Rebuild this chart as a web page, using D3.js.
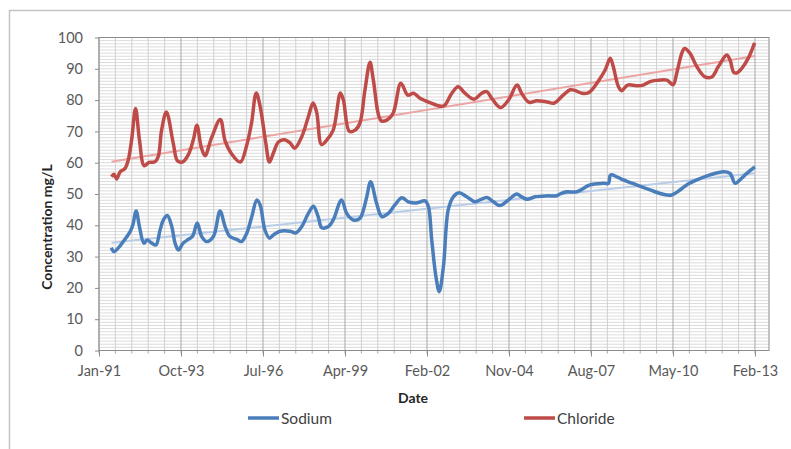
<!DOCTYPE html>
<html>
<head>
<meta charset="utf-8">
<script src="https://cdn.jsdelivr.net/npm/d3@7"></script>
<style>
  body { margin: 0; background: #fff; }
  text { font-family: Lato, "Open Sans", sans-serif; }
</style>
</head>
<body>
<div id="chart"></div>
<script>
"use strict"

// sample dates as decimal years, values in mg/L
let sodiumDates = [1991.41,1991.50,1991.64,1991.81,1992.04,1992.13,1992.24,1992.35,1992.50,1992.61,
    1992.76,1992.90,1993.04,1993.15,1993.28,1993.43,1993.54,1993.65,1993.81,1993.98,
    1994.13,1994.28,1994.43,1994.60,1994.82,1995.04,1995.21,1995.37,1995.60,1995.76,
    1995.93,1996.10,1996.27,1996.38,1996.54,1996.69,1996.82,1997.04,1997.38,1997.58,
    1997.77,1997.99,1998.16,1998.32,1998.44,1998.66,1998.82,1999.10,1999.27,1999.49,
    1999.71,1999.83,1999.94,2000.07,2000.27,2000.44,2000.66,2000.88,2001.11,2001.33,
    2001.58,2001.89,2002.00,2002.11,2002.25,2002.36,2002.50,2002.66,2002.83,2003.02,
    2003.28,2003.55,2003.72,2003.95,2004.17,2004.39,2004.67,2004.95,2005.11,2005.30,
    2005.56,2005.95,2006.28,2006.39,2006.62,2006.95,2007.39,2007.84,2008.01,2008.08,
    2008.29,2008.51,2008.95,2009.40,2009.84,2010.12,2010.40,2010.62,2010.96,2011.40,
    2011.85,2012.07,2012.24,2012.40,2012.63,2012.90];
let sodiumValues = [32.8,31.6,32.7,34.8,38,40.1,44.6,39.6,34.3,35.3,
    34.3,33.7,38.5,41.7,43.1,39.6,34.3,32.1,34.3,35.5,
    36.6,40.7,36.4,34.8,36.4,44.6,39.6,36.4,35.5,34.8,
    37.4,42.7,48.1,46.5,38.5,35.9,36.9,38.1,38.1,37.6,
    39.6,43.8,46.1,42.7,39.2,39.6,41.7,48.1,43.8,41.7,
    42.2,44.9,49.1,53.9,47,42.8,43.8,46.5,48.8,47.5,
    47.1,47.8,45.9,35.3,23.6,18.8,26.8,44.9,49.1,50.4,
    49.1,47.5,48.1,48.9,47.5,46.3,48.1,50,49.1,48.3,
    49.1,49.4,49.4,50,50.7,50.7,52.9,53.4,53.4,56.1,
    55.5,54.5,52.9,51.3,49.9,49.7,51.3,52.9,54.5,56.1,
    57.1,56.6,53.4,54.5,56.6,58.7];

let chlorideDates = [1991.42,1991.50,1991.59,1991.70,1991.87,1991.98,1992.09,1992.22,1992.35,1992.51,
    1992.67,1992.87,1992.98,1993.09,1993.25,1993.48,1993.62,1993.80,1993.98,1994.15,
    1994.27,1994.41,1994.54,1994.76,1995.05,1995.21,1995.43,1995.72,1995.93,1996.09,
    1996.25,1996.38,1996.57,1996.69,1996.82,1996.99,1997.18,1997.38,1997.53,1997.77,
    1997.99,1998.15,1998.27,1998.43,1998.61,1998.82,1999.06,1999.16,1999.36,1999.55,
    1999.71,1999.88,2000.05,2000.16,2000.42,2000.61,2000.82,2001.08,2001.31,2001.50,
    2001.72,2002.05,2002.42,2002.55,2002.78,2002.99,2003.22,2003.52,2003.78,2003.95,
    2004.11,2004.40,2004.67,2004.96,2005.11,2005.36,2005.62,2005.96,2006.19,2006.50,
    2006.73,2006.89,2007.12,2007.31,2007.45,2007.67,2007.90,2008.07,2008.17,2008.34,
    2008.45,2008.65,2008.95,2009.17,2009.40,2009.62,2009.96,2010.17,2010.29,2010.46,
    2010.55,2010.73,2010.96,2011.23,2011.46,2011.68,2011.96,2012.07,2012.20,2012.32,
    2012.46,2012.68,2012.89];
let chlorideValues = [55.5,56.3,54.8,57,58.2,61,67.3,77.3,67.3,59,
    60.1,60.3,62,70.4,76.2,66.2,60.6,60.3,62.5,67.3,
    72,65.1,62.2,68,73.8,67,62.8,60.2,65.5,72.5,
    82.3,78,66.2,60.2,63,66.6,67.3,66.3,64.6,68.3,
    74.7,79.1,76,65.8,67.3,70.4,82.3,80,70,70.4,
    72.6,83.2,92.1,86.4,73.4,73.6,75.8,85.4,81.6,82.2,
    80.6,79.2,78,78.4,82.2,84.3,82.2,80.3,82.2,82.7,
    80.6,77.6,80,84.8,82.2,79.3,79.8,79.4,79,81.6,
    83.3,83.1,82.2,82.2,83.2,86,89.6,93.4,90.7,84.4,
    83,84.8,84.6,84.8,85.9,86.3,86.4,84.9,88.6,95,
    96.5,95,90.7,87.4,87.4,90.7,94.4,92.8,88.8,88.8,
    90.1,93.4,98.3];

// linear trend lines, end points
let trendDates = [1991.42, 2012.90];
let sodiumTrend = [34.4, 56.6];
let chlorideTrend = [60.3, 94.1];

let xTickLabels = ["Jan-91", "Oct-93", "Jul-96", "Apr-99", "Feb-02", "Nov-04", "Aug-07", "May-10", "Feb-13"];
let yTicks = [0, 10, 20, 30, 40, 50, 60, 70, 80, 90, 100];
let seriesNames = ["Sodium", "Chloride"];

let colors = { Sodium: "#4a7ebb", Chloride: "#be4b48" };
let trendColors = { Sodium: "#b9cde8", Chloride: "#eaa5a4" };

let startYear = 1991, majorDays = 1000, minorDays = 200, spanDays = 8171;
let toYear = d => startYear + d / 365.25;

let svg = d3.select("#chart").append("svg")
    .attr("width", 791)
    .attr("height", 449);

// chart area border
svg.append("rect")
    .attr("x", 9.5).attr("y", 10.5)
    .attr("width", 820).attr("height", 470)
    .style("fill", "none")
    .style("stroke", "#c4c4c4")
    .style("stroke-width", "1.5px");

let x = d3.scaleLinear()
    .domain([startYear, toYear(spanDays)])
    .range([99, 769]);

let y = d3.scaleLinear()
    .domain([0, 100])
    .range([350.5, 37.5]);

let grid = svg.append("g");

// horizontal minor gridlines, every 1 mg/L
grid.selectAll(".hgrid")
    .data(d3.range(0, 101, 1))
    .enter().append("line")
    .attr("x1", x.range()[0]).attr("x2", x.range()[1])
    .attr("y1", d => y(d)).attr("y2", d => y(d))
    .style("stroke", "#dcdcdc")
    .style("stroke-width", "1px");

// vertical gridlines
grid.selectAll(".vgrid")
    .data(d3.range(0, spanDays, minorDays))
    .enter().append("line")
    .attr("x1", d => x(toYear(d))).attr("x2", d => x(toYear(d)))
    .attr("y1", y(0)).attr("y2", y(100))
    .style("stroke", d => d % majorDays === 0 ? "#a8a8a8" : "#d0d0d0")
    .style("stroke-width", "1px");

// small ticks under the axis at every vertical gridline
grid.selectAll(".minorTick")
    .data(d3.range(0, spanDays, minorDays))
    .enter().append("line")
    .attr("x1", d => x(toYear(d))).attr("x2", d => x(toYear(d)))
    .attr("y1", y(0)).attr("y2", y(0) + 3)
    .style("stroke", "#a8a8a8")
    .style("stroke-width", "1px");

// plot area frame
svg.append("rect")
    .attr("x", x.range()[0]).attr("y", y(100))
    .attr("width", x.range()[1] - x.range()[0])
    .attr("height", y(0) - y(100))
    .style("fill", "none")
    .style("stroke", "#8c8c8c")
    .style("stroke-width", "1px");

// axes
let xTicks = xTickLabels.map((d, i) => toYear(i * majorDays));

let xAxis = svg.append("g")
    .attr("transform", "translate(0," + y(0) + ")")
    .call(d3.axisBottom(x).tickValues(xTicks).tickSize(6).tickPadding(9)
        .tickFormat((d, i) => xTickLabels[i]));

let yAxis = svg.append("g")
    .attr("transform", "translate(" + x.range()[0] + ",0)")
    .call(d3.axisLeft(y).tickValues(yTicks).tickSize(4).tickPadding(12));

[xAxis, yAxis].forEach(a => {
    a.select(".domain").remove();
    a.selectAll(".tick line").style("stroke", "#8c8c8c");
    a.selectAll(".tick text")
        .style("font-size", "14.5px")
        .style("fill", "#595959");
});

// trend lines
let trendLine = d3.line().x(d => x(d[0])).y(d => y(d[1]));

svg.append("path")
    .datum(d3.zip(trendDates, chlorideTrend))
    .attr("d", trendLine)
    .style("fill", "none")
    .style("stroke", trendColors.Chloride)
    .style("stroke-width", "2px");

svg.append("path")
    .datum(d3.zip(trendDates, sodiumTrend))
    .attr("d", trendLine)
    .style("fill", "none")
    .style("stroke", trendColors.Sodium)
    .style("stroke-width", "2px");

// smoothed series
let smooth = d3.line()
    .x(d => x(d[0]))
    .y(d => y(d[1]))
    .curve(d3.curveCatmullRom.alpha(0.5));

svg.append("path")
    .datum(d3.zip(sodiumDates, sodiumValues))
    .attr("d", smooth)
    .style("fill", "none")
    .style("stroke", colors.Sodium)
    .style("stroke-width", "3.5px")
    .style("stroke-linejoin", "round");

svg.append("path")
    .datum(d3.zip(chlorideDates, chlorideValues))
    .attr("d", smooth)
    .style("fill", "none")
    .style("stroke", colors.Chloride)
    .style("stroke-width", "3.5px")
    .style("stroke-linejoin", "round");

// axis titles
svg.append("text")
    .attr("x", 413)
    .attr("y", 403)
    .style("text-anchor", "middle")
    .style("font-size", "14px")
    .style("font-weight", "bold")
    .style("fill", "#262626")
    .text("Date");

svg.append("text")
    .attr("transform", "translate(52,227) rotate(-90)")
    .style("text-anchor", "middle")
    .style("font-size", "14px")
    .style("font-weight", "bold")
    .style("fill", "#262626")
    .text("Concentration mg/L");

// legend
let legendX = [248, 524];
seriesNames.forEach((name, i) => {
    svg.append("line")
        .attr("x1", legendX[i]).attr("x2", legendX[i] + 31)
        .attr("y1", 418).attr("y2", 418)
        .style("stroke", colors[name])
        .style("stroke-width", "3.5px");

    svg.append("text")
        .attr("x", legendX[i] + 33)
        .attr("y", 423.5)
        .style("font-size", "15.5px")
        .style("fill", "#404040")
        .text(name);
});
</script>
</body>
</html>
